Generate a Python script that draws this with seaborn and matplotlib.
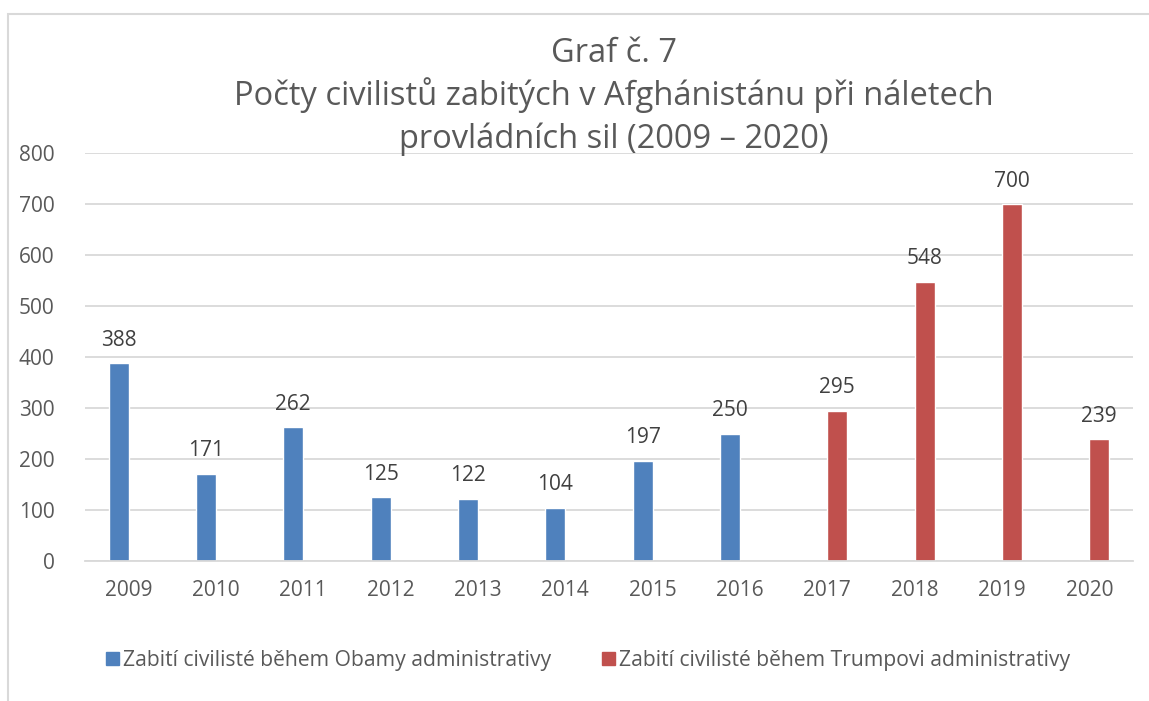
import numpy as np
import pandas as pd
import matplotlib
matplotlib.use("Agg")
import matplotlib.pyplot as plt
import matplotlib.patches as mpatches
import seaborn as sns

# data
years = ["2009", "2010", "2011", "2012", "2013", "2014", "2015", "2016",
         "2017", "2018", "2019", "2020"]
obama = [388, 171, 262, 125, 122, 104, 197, 250, None, None, None, None]
trump = [None, None, None, None, None, None, None, None, 295, 548, 700, 239]
series_names = ["Zabití civilisté během Obamy administrativy",
                "Zabití civilisté během Trumpovi administrativy"]
title_lines = ["Graf č. 7",
               "Počty civilistů zabitých v Afghánistánu při náletech",
               "provládních sil (2009 – 2020)"]
colors = ["#4F81BD", "#C0504D"]

rows = []
for y, v in zip(years, obama):
    rows.append({"rok": y, "serie": series_names[0], "pocet": v})
for y, v in zip(years, trump):
    rows.append({"rok": y, "serie": series_names[1], "pocet": v})
df = pd.DataFrame(rows).dropna()

sns.set_theme(style="white")
plt.rcParams['font.family'] = ['Open Sans', 'DejaVu Sans']

fig = plt.figure(figsize=(11.49, 7.01), dpi=100)
ax = fig.add_axes([0.074, 0.1997, 0.912, 0.582])

sns.barplot(data=df, x="rok", y="pocet", hue="serie", order=years,
            hue_order=series_names, palette=colors, width=0.46, gap=0,
            dodge=True, saturation=1, errorbar=None, ax=ax, legend=False)

for cont in ax.containers:
    ax.bar_label(cont, fmt="%d", padding=9, fontsize=15, color="#404040")

ax.set_ylim(0, 800)
ax.set_yticks(range(0, 801, 100))
ax.set_xlabel("")
ax.set_ylabel("")
ax.grid(axis="y", color="#D9D9D9", linewidth=1.3)
ax.set_axisbelow(True)
for s in ["top", "right", "left"]:
    ax.spines[s].set_visible(False)
ax.spines["bottom"].set_color("#D9D9D9")
ax.spines["bottom"].set_linewidth(1.3)
ax.tick_params(axis="both", length=0, labelsize=15, labelcolor="#595959")
ax.tick_params(axis="y", pad=22)
ax.tick_params(axis="x", pad=14)

# title, three lines on fixed baselines
for txt, ypx in zip(title_lines, [62, 105, 148]):
    fig.text(0.5345, 1 - ypx / 701, txt, ha="center", va="baseline",
             fontsize=23.5, color="#595959")

handles = [mpatches.Patch(color=c, label=n) for c, n in zip(colors, series_names)]
fig.legend(handles=handles, loc="center left", bbox_to_anchor=(0.076, 0.058),
           ncol=2, frameon=False, fontsize=15.2, labelcolor="#595959",
           handlelength=0.6, handleheight=0.6, handletextpad=0.2,
           columnspacing=2.4)

# chart frame (cropped at right and bottom like the source)
frame = mpatches.Rectangle((8 / 1149, -0.05), 1.1, 1 - 14 / 701 + 0.05,
                           transform=fig.transFigure, fill=False,
                           edgecolor="#D9D9D9", linewidth=1.5, clip_on=False)
fig.patches.append(frame)

fig.savefig("out.png", dpi=100)
